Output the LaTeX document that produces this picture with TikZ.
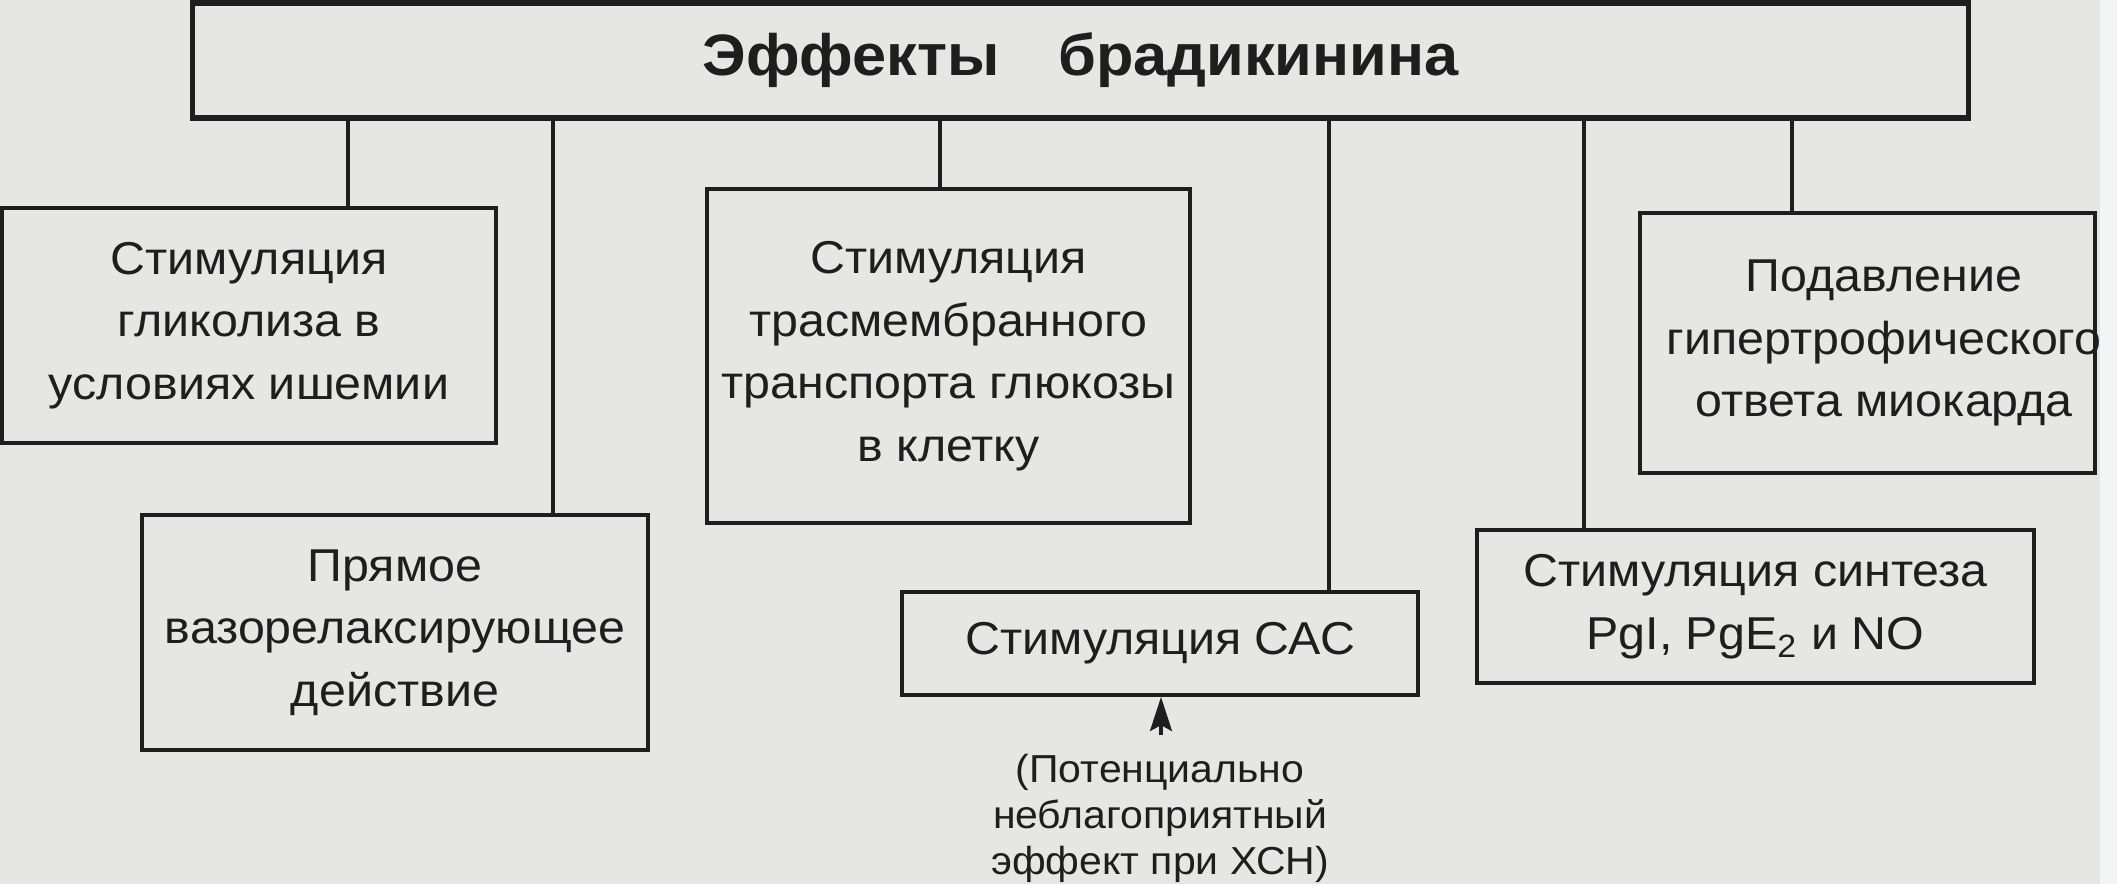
\documentclass[tikz,border=0pt]{standalone}
\usepackage{fontspec}
\setmainfont{Liberation Sans}[FakeStretch=1.05]
\usetikzlibrary{arrows.meta}
\definecolor{paper}{HTML}{E6E6E4}
\definecolor{ink}{HTML}{1E1E1E}
\definecolor{pageedge}{HTML}{F2F4F7}
\begin{document}
\begin{tikzpicture}[x=0.01cm,y=-0.01cm,
  box/.style={draw=ink, line width=1.15pt, inner sep=0pt, align=center, text=ink,
    font=\fontsize{13.1}{17.8}\selectfont},
  titlebox/.style={draw=ink, line width=1.45pt, inner sep=0pt, text=ink,
    font=\fontsize{16.6}{19}\selectfont\bfseries},
  txt/.style={inner sep=0pt, align=center, text=ink, font=\fontsize{13.1}{17.8}\selectfont},
  note/.style={inner sep=0pt, align=center, text=ink, font=\fontsize{11.1}{13.1}\selectfont},
  link/.style={draw=ink, line width=1.1pt},
  uparrow/.style={draw=ink, line width=1pt, -{Stealth[length=0.34cm, width=0.22cm, inset=0.06cm]}}]
\useasboundingbox (0,0) rectangle (2117,884);
\fill[paper] (0,0) rectangle (2117,884);
\fill[pageedge] (2100,0) rectangle (2117,884);

% title
\node[titlebox, minimum width=17.75cm, minimum height=1.15cm] (title) at (1080.5,60.5)
  {Эффекты\hspace{1.0em}брадикинина};

% boxes
\node[box, minimum width=4.94cm, minimum height=2.35cm] (glyc) at (249,325.5)
  {Стимуляция\\гликолиза в\\условиях ишемии};
\node[box, minimum width=4.83cm, minimum height=3.34cm] (trans) at (948.5,356)
  {Стимуляция\\трасмембранного\\транспорта глюкозы\\в клетку};
\node[box, minimum width=5.06cm, minimum height=2.35cm] (pryam) at (395,632.5)
  {Прямое\\вазорелаксирующее\\действие};
\node[box, minimum width=5.16cm, minimum height=1.03cm] (sas) at (1160,643.5)
  {Стимуляция САС};
\node[box, minimum width=5.57cm, minimum height=1.53cm] (synth) at (1755.5,606.5)
  {Стимуляция синтеза\\PgI, PgE\textsubscript{2} и NO};
\node[box, minimum width=4.55cm, minimum height=2.60cm] (podav) at (1867.5,343) {};
\node[txt] (podavtext) at (1884,343)
  {Подавление\\гипертрофического\\ответа миокарда};

% connector x positions
\coordinate (x1) at (348,0);
\coordinate (x2) at (553,0);
\coordinate (x3) at (940,0);
\coordinate (x4) at (1329,0);
\coordinate (x5) at (1584,0);
\coordinate (x6) at (1792,0);

\draw[link] (x1 |- title.south) -- (x1 |- glyc.north);
\draw[link] (x2 |- title.south) -- (x2 |- pryam.north);
\draw[link] (x3 |- title.south) -- (x3 |- trans.north);
\draw[link] (x4 |- title.south) -- (x4 |- sas.north);
\draw[link] (x5 |- title.south) -- (x5 |- synth.north);
\draw[link] (x6 |- title.south) -- (x6 |- podav.north);

% annotation
\node[note] (harm) at (1160,818)
  {(Потенциально\\неблагоприятный\\эффект при ХСН)};
\coordinate (arrtail) at (1161,735);
\coordinate (xa) at (1161,0);
\draw[uparrow] (arrtail) -- (xa |- sas.south);
\end{tikzpicture}
\end{document}
